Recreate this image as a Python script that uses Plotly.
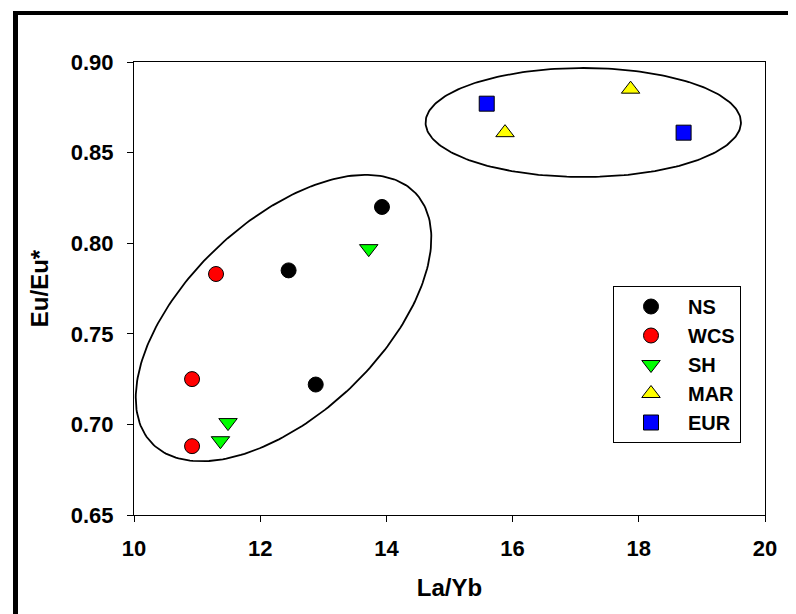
import numpy as np
import plotly.graph_objects as go

# ---- data ----
ns_x = [13.93, 12.45, 12.88]
ns_y = [0.820, 0.785, 0.722]
wcs_x = [11.30, 10.92, 10.92]
wcs_y = [0.783, 0.725, 0.688]
sh_x = [13.72, 11.49, 11.37]
sh_y = [0.797, 0.701, 0.691]
mar_x = [17.87, 15.88]
mar_y = [0.885, 0.861]
eur_x = [15.59, 18.71]
eur_y = [0.877, 0.861]

x_ticks = [10, 12, 14, 16, 18, 20]
y_ticks = [0.65, 0.70, 0.75, 0.80, 0.85, 0.90]

# group ellipses: centre (data units), semi-axes (pixels), rotation (deg)
ell_lower = dict(cx=12.37, cy=0.7587, a=181.7, b=96.7, ang=43.4)
ell_upper = dict(cx=17.12, cy=0.8666, a=157.7, b=54.5, ang=0.0)

# ---- layout geometry ----
W, H = 796, 614
ML, MR, MT, MB = 126, 39, 54, 107
XR = [10, 20]
YR = [0.65, 0.90]
pw, ph = W - ML - MR, H - MT - MB
px_x = pw / (XR[1] - XR[0])
px_y = ph / (YR[1] - YR[0])

FONT = "Liberation Sans, Arial, sans-serif"

fig = go.Figure()


def ellipse(e):
    t = np.linspace(0, 2 * np.pi, 241)
    th = np.radians(e["ang"])
    dx = e["a"] * np.cos(t) * np.cos(th) - e["b"] * np.sin(t) * np.sin(th)
    dy = e["a"] * np.cos(t) * np.sin(th) + e["b"] * np.sin(t) * np.cos(th)
    return e["cx"] + dx / px_x, e["cy"] + dy / px_y


for e in (ell_lower, ell_upper):
    ex, ey = ellipse(e)
    fig.add_trace(go.Scatter(x=ex, y=ey, mode="lines", showlegend=False,
                             hoverinfo="skip",
                             line=dict(color="black", width=1.8)))

series = [
    ("NS", ns_x, ns_y, "circle", "#000000", 15),
    ("WCS", wcs_x, wcs_y, "circle", "#FF0000", 15),
    ("SH", sh_x, sh_y, "triangle-down", "#00FF00", 16),
    ("MAR", mar_x, mar_y, "triangle-up", "#FFFF00", 16),
    ("EUR", eur_x, eur_y, "square", "#0000FF", 15),
]
for name, xs, ys, sym, col, sz in series:
    fig.add_trace(go.Scatter(
        x=xs, y=ys, mode="markers", name=name,
        marker=dict(symbol=sym, color=col, size=sz,
                    line=dict(color="black", width=1))))


def pxx(p):
    return (p - ML) / pw


def pxy(p):
    return (H - MB - p) / ph


# outer frame (left, top, bottom black bars)
frame = [
    (5, 3, 10, 614),
    (5, 3, 800, 7),
    (5, 610, 800, 614),
]
for x0, y0, x1, y1 in frame:
    fig.add_shape(type="rect", xref="paper", yref="paper",
                  x0=pxx(x0), x1=pxx(x1), y0=pxy(y1), y1=pxy(y0),
                  fillcolor="black", line=dict(width=0), layer="above")

axis_common = dict(showgrid=False, zeroline=False, showline=True,
                   linecolor="black", linewidth=1, mirror=True,
                   ticks="outside", ticklen=6, tickwidth=1, tickcolor="black",
                   tickfont=dict(family=FONT, size=22, color="black",
                                 weight="bold"))

fig.update_layout(
    width=W, height=H,
    margin=dict(l=ML, r=MR, t=MT, b=MB),
    paper_bgcolor="white", plot_bgcolor="white",
    font=dict(family=FONT, color="black"),
    xaxis=dict(range=XR, tickvals=x_ticks, ticktext=[str(v) for v in x_ticks],
               title=dict(text="La/Yb", standoff=18,
                          font=dict(family=FONT, size=24, weight="bold")),
               ticklabelstandoff=8,
               **axis_common),
    yaxis=dict(range=YR, tickvals=y_ticks,
               ticktext=[f"{v:.2f}" for v in y_ticks],
               title=dict(text="Eu/Eu*", standoff=15,
                          font=dict(family=FONT, size=24, weight="bold")),
               ticklabelstandoff=9,
               **axis_common),
    legend=dict(x=pxx(605), y=pxy(278), xanchor="left", yanchor="top",
                bordercolor="black", borderwidth=1, bgcolor="white",
                font=dict(family=FONT, size=20, color="black", weight="bold"),
                itemwidth=64, traceorder="normal"),
    showlegend=True,
)

fig.write_html("out.html")
